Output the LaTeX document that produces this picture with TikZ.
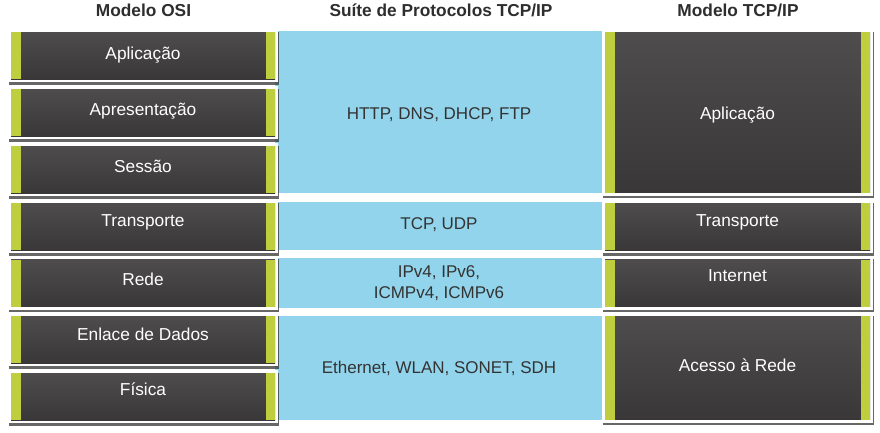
\documentclass[tikz,border=0pt]{standalone}
\usepackage{fontspec}
\setmainfont{Liberation Sans}
\definecolor{boxtop}{HTML}{4E4C4D}
\definecolor{boxbot}{HTML}{393738}
\definecolor{limec}{HTML}{BECE3E}
\definecolor{bandc}{HTML}{92D4EC}
\definecolor{inkc}{HTML}{333333}
\definecolor{headc}{HTML}{2E2E2E}
\definecolor{shadowc}{HTML}{353535}
\tikzset{
  tp/.style 2 args={text height=#1, text depth=#2},
  layerbox/.style={rectangle, inner sep=0pt, text=white,
    font=\fontsize{17.3}{20}\selectfont, tp={10.5pt}{5.5pt},
    top color=boxtop, bottom color=boxbot, draw=none,
    preaction={fill=shadowc, draw=shadowc, opacity=0.75, line width=6pt,
      transform canvas={xshift=1pt, yshift=-2.5pt}},
    preaction={fill=white, draw=white, line width=6pt},
    path picture={
      \fill[limec] (path picture bounding box.north west) rectangle
        ([xshift=9.5pt]path picture bounding box.south west);
      \fill[limec] (path picture bounding box.north east) rectangle
        ([xshift=-9.5pt]path picture bounding box.south east);}},
  osibox/.style={layerbox, minimum width=264pt, minimum height=47pt},
  tcpbox/.style={layerbox, minimum width=265pt, minimum height=#1},
  bandbox/.style={rectangle, inner sep=0pt, fill=bandc, text=inkc,
    font=\fontsize{17}{21}\selectfont, align=center,
    minimum width=328pt, minimum height=#1},
  headtext/.style={anchor=base, text=headc, font=\fontsize{17.3}{20}\selectfont\bfseries}
}
\begin{document}
\begin{tikzpicture}[x=1pt, y=-1pt]
\useasboundingbox (0,0) rectangle (880,432);
\fill[white] (0,0) rectangle (880,432);

% headers
\node[headtext] (hosi) at (143.5,16.7) {Modelo OSI};
\node[headtext] (hsuite) at (441,16.7) {Suíte de Protocolos TCP/IP};
\node[headtext] (htcp) at (738,16.7) {Modelo TCP/IP};

% protocol bands
\node[bandbox=162pt, tp={15pt}{1pt}] (b1) at (439,112) {HTTP, DNS, DHCP, FTP};
\node[bandbox=48pt, tp={11.3pt}{4.7pt}] (b2) at (439,226) {TCP, UDP};
\node[bandbox=50pt] (b3) at (439,283) {IPv4, IPv6,\\ICMPv4, ICMPv6};
\node[bandbox=104pt, tp={13.5pt}{2.5pt}] (b4) at (439,367.5) {Ethernet, WLAN, SONET, SDH};

% OSI model
\node[osibox, tp={11.8pt}{4.2pt}] (o7) at (143,55.5) {Aplicação};
\node[osibox, tp={10.5pt}{5.5pt}] (o6) at (143,112.5) {Apresentação};
\node[osibox, tp={10.5pt}{5.5pt}] (o5) at (143,169.5) {Sessão};
\node[osibox, tp={8.2pt}{7.8pt}] (o4) at (143,226.5) {Transporte};
\node[osibox, tp={10pt}{6pt}] (o3) at (143,283) {Rede};
\node[osibox, tp={8.5pt}{7.5pt}] (o2) at (143,339.5) {Enlace de Dados};
\node[osibox, tp={6.5pt}{9.5pt}] (o1) at (143,396.5) {Física};

% TCP/IP model
\node[tcpbox=160.5pt, tp={15pt}{1pt}] (t4) at (737.5,112.25) {Aplicação};
\node[tcpbox=47pt, tp={8.2pt}{7.8pt}] (t3) at (737.5,226.5) {Transporte};
\node[tcpbox=47pt, tp={6.7pt}{9.3pt}] (t2) at (737.5,283) {Internet};
\node[tcpbox=103.5pt, tp={12pt}{4pt}] (t1) at (737.5,367.75) {Acesso à Rede};
\end{tikzpicture}
\end{document}
